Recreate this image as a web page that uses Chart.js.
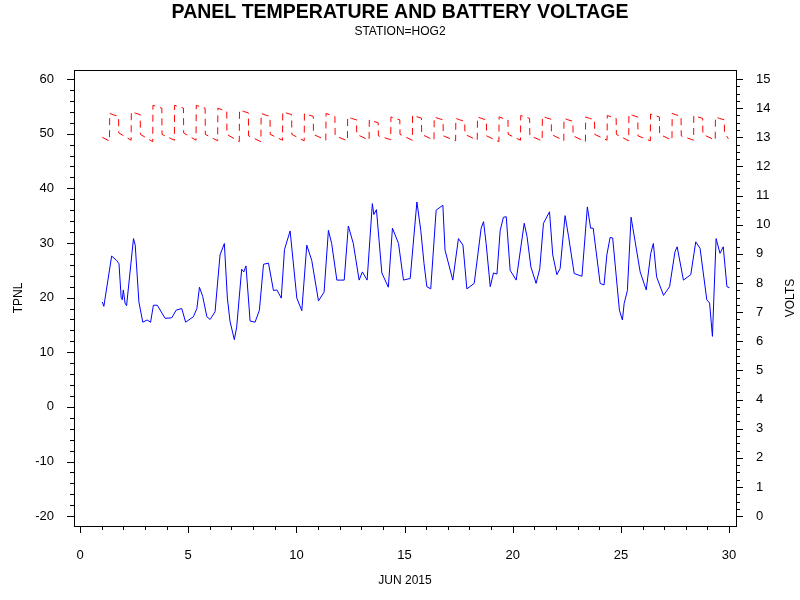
<!DOCTYPE html>
<html><head><meta charset="utf-8">
<script src="https://cdn.jsdelivr.net/npm/chart.js@4/dist/chart.umd.min.js"></script>
<style>html,body{margin:0;padding:0;background:#fff}#w{width:800px;height:600px}</style>
</head><body><div id="w"><canvas id="c"></canvas></div>
<script>
// Panel temperature (TPNL), day of June 2015 vs value
const tempDays = [1.03,1.1,1.46,1.69,1.8,1.9,1.95,2.0,2.08,2.15,2.47,2.55,2.72,2.9,3.1,3.26,3.39,3.57,3.93,4.24,4.44,4.7,4.88,5.24,5.4,5.52,5.67,5.86,6.01,6.24,6.47,6.67,6.81,6.93,7.13,7.24,7.47,7.57,7.67,7.86,8.09,8.29,8.48,8.71,8.94,9.1,9.3,9.45,9.71,10.02,10.25,10.48,10.71,11.02,11.28,11.48,11.63,11.87,12.21,12.4,12.63,12.9,13.05,13.27,13.51,13.58,13.7,13.95,14.25,14.44,14.72,14.95,15.26,15.57,15.75,15.9,16.03,16.21,16.46,16.77,16.87,17.23,17.49,17.7,17.88,18.22,18.54,18.65,18.77,18.96,19.11,19.27,19.42,19.57,19.7,19.88,20.16,20.53,20.66,20.84,21.08,21.25,21.42,21.7,21.85,22.04,22.19,22.42,22.58,22.84,23.2,23.45,23.6,23.72,24.04,24.22,24.35,24.5,24.62,24.93,25.07,25.15,25.3,25.47,25.66,25.89,26.17,26.38,26.5,26.65,26.97,27.25,27.5,27.6,27.89,28.23,28.46,28.66,28.97,29.1,29.23,29.4,29.58,29.73,29.9,30.02];
const tempValues = [19.2,18.4,27.6,26.8,26.2,20.0,19.6,21.4,19.0,18.5,30.8,29.6,19.2,15.5,15.9,15.5,18.6,18.6,16.2,16.3,17.7,18.0,15.5,16.5,18.0,21.9,20.2,16.5,16.0,17.4,27.8,29.9,19.9,15.7,12.3,14.6,25.2,24.7,25.8,15.7,15.5,17.7,26.1,26.3,21.3,21.4,19.9,28.8,32.2,19.9,17.6,29.6,26.8,19.4,21.0,32.3,29.9,23.2,23.2,33.1,29.9,23.2,24.7,23.2,37.2,35.2,36.1,24.5,21.9,32.7,29.9,23.2,23.5,37.5,32.3,26.2,22.0,21.6,36.0,36.9,28.7,23.2,30.8,29.6,21.6,22.6,32.7,33.9,29.9,22.0,24.5,24.3,32.3,34.7,34.8,25.0,23.2,33.6,31.2,25.6,22.6,25.3,33.6,35.7,27.8,24.2,25.3,35.0,31.2,24.4,23.9,36.6,32.7,32.7,22.6,22.3,27.8,31.0,30.9,17.7,15.9,18.9,21.3,34.7,30.2,24.7,21.4,28.1,29.9,23.8,20.4,22.0,28.4,29.3,23.2,24.2,30.2,29.0,19.6,19.0,12.9,30.8,28.1,29.3,22.0,21.8];
// Battery voltage (VOLTS): daily low before charge, charged high, level after drop
const voltDaysList = [1,2,3,4,5,6,7,8,9,10,11,12,13,14,15,16,17,18,19,20,21,22,23,24,25,26,27,28,29];
const voltLow  = [12.87,12.9,12.85,12.9,12.9,12.88,12.85,12.85,12.9,12.88,12.9,12.88,12.9,12.92,12.9,12.9,12.88,12.9,12.85,12.9,12.88,12.88,12.85,12.9,12.88,12.88,12.9,12.9,12.9];
const voltHigh = [13.82,13.88,14.1,14.1,14.1,14.0,13.94,13.82,13.88,13.82,13.82,13.7,13.6,13.7,13.76,13.7,13.65,13.7,13.7,13.75,13.72,13.65,13.7,13.75,13.8,13.8,13.82,13.75,13.7];
const voltMid  = [13.15,13.1,13.1,13.15,13.1,13.1,13.05,13.1,13.1,13.1,13.05,13.1,13.05,13.1,13.1,13.05,13.1,13.05,13.1,13.05,13.1,13.05,13.1,13.1,13.05,13.1,13.05,13.1,13.15];
const xTicks = [0,5,10,15,20,25,30];
const leftTicks = [-20,-10,0,10,20,30,40,50,60];
const rightTicks = [0,1,2,3,4,5,6,7,8,9,10,11,12,13,14,15];

const tempData = tempDays.map((d,i)=>({x:d,y:tempValues[i]}));
const voltData = [{x:1.03,y:13.0}];
voltDaysList.forEach((d,i)=>{
  voltData.push({x:d+0.36,y:voltLow[i]},{x:d+0.37,y:voltHigh[i]},{x:d+0.55,y:voltHigh[i]-0.05},{x:d+0.78,y:voltHigh[i]-0.1},{x:d+0.79,y:voltMid[i]});
});
voltData.push({x:29.97,y:12.95});

const F = '"Liberation Sans", Arial, sans-serif';
const deco = {
  id:'deco',
  afterDraw(ch){
    const c=ch.ctx, a=ch.chartArea, s=ch.scales;
    c.save();
    c.strokeStyle='#000'; c.lineWidth=1;
    c.strokeRect(Math.round(a.left)+0.5,Math.round(a.top)+0.5,Math.round(a.right-a.left),Math.round(a.bottom-a.top));
    c.beginPath();
    for(let v=-20;v<=60;v+=2){const y=Math.round(s.y.getPixelForValue(v))+0.5;const L=(v%10===0)?7:4;c.moveTo(a.left,y);c.lineTo(a.left-L,y);}
    for(let v=0;v<=60;v++){const y=Math.round(s.y2.getPixelForValue(v/4))+0.5;const L=(v%4===0)?7:4;c.moveTo(a.right,y);c.lineTo(a.right+L,y);}
    for(let v=0;v<=30;v++){const x=Math.round(s.x.getPixelForValue(v))+0.5;const L=(v%5===0)?7:4;c.moveTo(x,a.bottom);c.lineTo(x,a.bottom+L);}
    c.stroke();
    c.fillStyle='#000'; c.textAlign='center';
    c.font='bold 19.5px '+F; c.fillText('PANEL TEMPERATURE AND BATTERY VOLTAGE',400,18);
    c.font='12px '+F; c.fillText('STATION=HOG2',400,35);
    c.fillText('JUN 2015',405,584);
    c.translate(22,298); c.rotate(-Math.PI/2); c.fillText('TPNL',0,0); c.restore();
    c.save(); c.fillStyle='#000'; c.font='12px '+F; c.textAlign='center';
    c.translate(794,298); c.rotate(-Math.PI/2); c.fillText('VOLTS',0,0);
    c.restore();
  }
};
new Chart(document.getElementById('c'),{
  type:'line',
  data:{datasets:[
    {data:tempData,yAxisID:'y',borderColor:'#0000ff',borderWidth:1,pointRadius:0,tension:0},
    {data:voltData,yAxisID:'y2',borderColor:'#ff0000',borderWidth:1,borderDash:[7,5],pointRadius:0,tension:0}
  ]},
  options:{
    responsive:true,maintainAspectRatio:false,animation:false,
    layout:{padding:{top:70,left:0,right:0,bottom:0}},
    plugins:{legend:{display:false},tooltip:{enabled:false}},
    scales:{
      x:{type:'linear',min:-0.28,max:30.32,grid:{display:false},border:{display:false},
         afterBuildTicks:s=>{s.ticks=xTicks.map(v=>({value:v}));},
         afterFit:s=>{s.height=74;},
         ticks:{padding:14,color:'#000',font:{family:F,size:13},maxRotation:0}},
      y:{position:'left',min:-21.8,max:61.65,grid:{display:false},border:{display:false},
         afterBuildTicks:s=>{s.ticks=leftTicks.map(v=>({value:v}));},
         afterFit:s=>{s.width=74;},
         ticks:{padding:12,color:'#000',font:{family:F,size:13}}},
      y2:{position:'right',min:-0.34,max:15.31,grid:{display:false},border:{display:false},
         afterBuildTicks:s=>{s.ticks=rightTicks.map(v=>({value:v}));},
         afterFit:s=>{s.width=64;},
         ticks:{padding:12,color:'#000',font:{family:F,size:13}}}
    }
  },
  plugins:[deco]
});
</script></body></html>
